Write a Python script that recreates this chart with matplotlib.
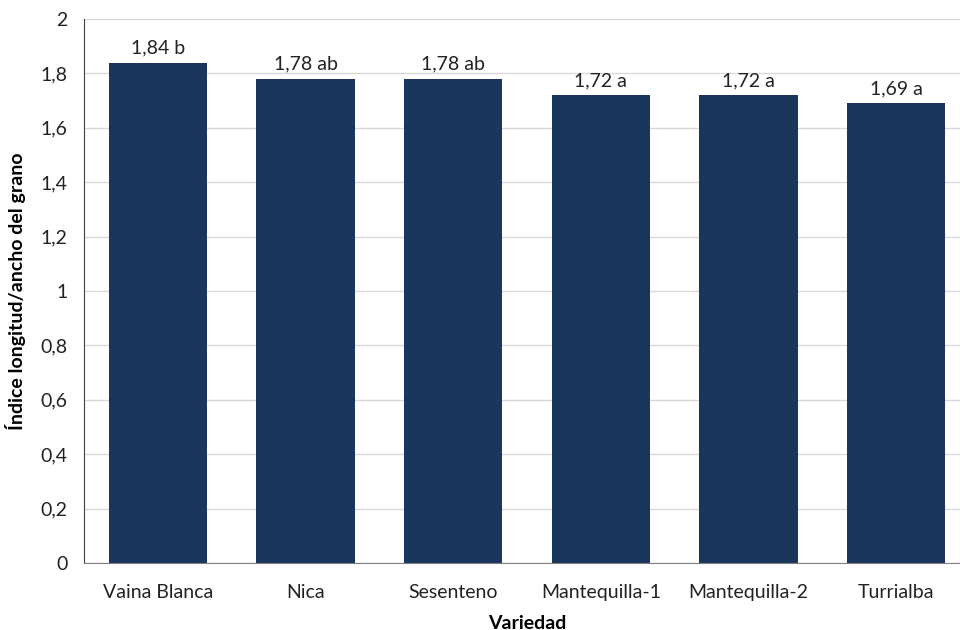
import matplotlib.pyplot as plt

# Grain length/width index per variety, with significance letters
variedades = ['Vaina Blanca', 'Nica', 'Sesenteno', 'Mantequilla-1', 'Mantequilla-2', 'Turrialba']
indice = [1.84, 1.78, 1.78, 1.72, 1.72, 1.69]
letras = ['b', 'ab', 'ab', 'a', 'a', 'a']
y_ticks = [0, 0.2, 0.4, 0.6, 0.8, 1.0, 1.2, 1.4, 1.6, 1.8, 2.0]

plt.rcParams['font.family'] = ['Lato', 'DejaVu Sans']

fig = plt.figure(figsize=(9.6, 6.3), dpi=100)
ax = fig.add_axes([84 / 960, 67 / 630, 886 / 960, 544 / 630])

x = range(len(variedades))
bars = ax.bar(x, indice, width=0.665, color='#1b365d', zorder=3)

# Value labels with comma decimal separator
for xi, v, l in zip(x, indice, letras):
    ax.text(xi, v + 0.022, f'{v:.2f}'.replace('.', ',') + ' ' + l,
            ha='center', va='bottom', fontsize=14, color='#222222')

ax.set_xlim(-0.5, 5.5)
ax.set_ylim(0, 2)
ax.set_yticks(y_ticks)
ax.set_yticklabels([f'{t:g}'.replace('.', ',') for t in y_ticks])
ax.set_xticks(list(x))
ax.set_xticklabels(variedades)
ax.tick_params(axis='both', length=0, labelsize=14, colors='#222222')
ax.tick_params(axis='x', pad=15)
ax.tick_params(axis='y', pad=12)

ax.yaxis.grid(True, color='#d9d9d9', linewidth=1, zorder=0)
for s in ['top', 'right']:
    ax.spines[s].set_visible(False)
ax.spines['left'].set_color('#404040')
ax.spines['bottom'].set_color('#808080')
ax.spines['left'].set_zorder(4)
ax.spines['bottom'].set_zorder(4)

ax.set_xlabel('Variedad', fontsize=14, fontweight='bold', labelpad=10)
ax.set_ylabel('Índice longitud/ancho del grano', fontsize=14, fontweight='bold', labelpad=10)

fig.savefig('out.png', dpi=100)
plt.close(fig)
